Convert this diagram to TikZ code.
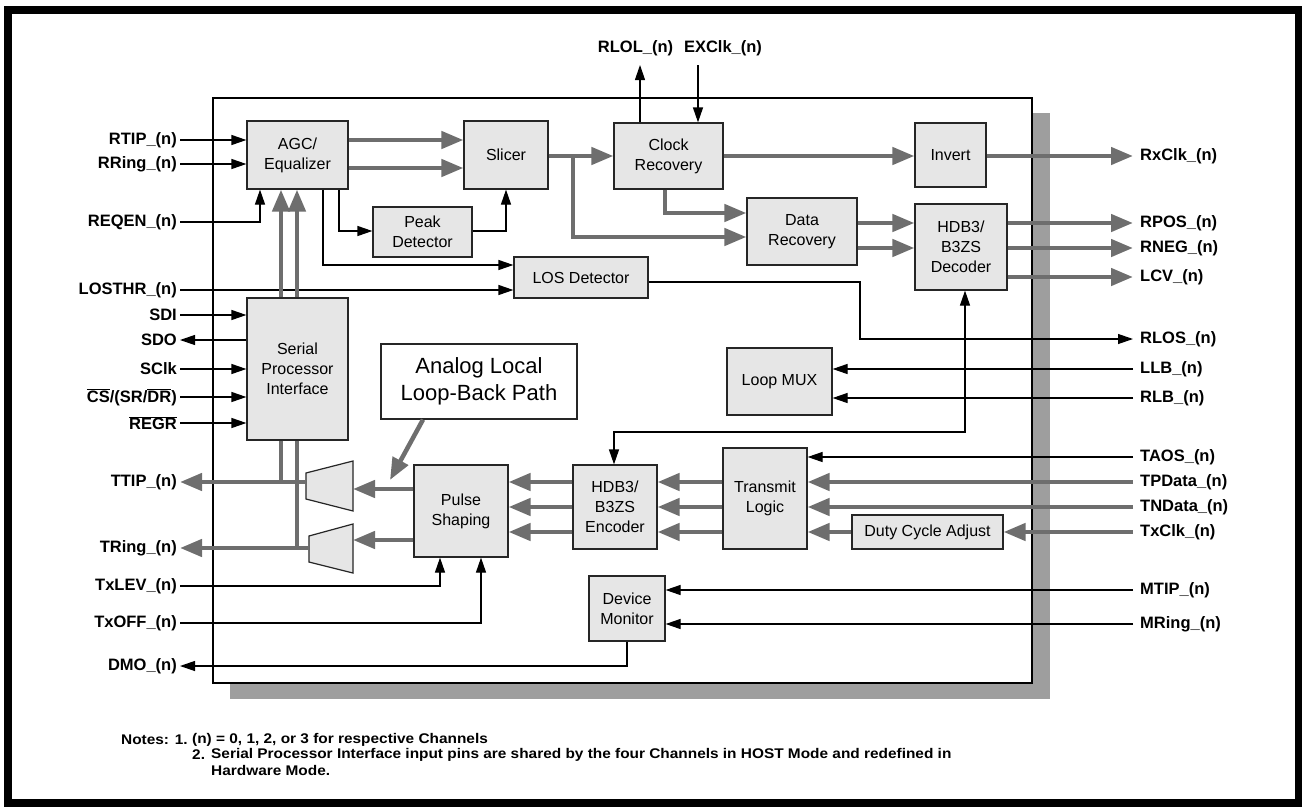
\documentclass[tikz,border=0pt]{standalone}
\usepackage{fontspec}
\setmainfont{Liberation Sans}
\newfontfamily\notefont[FakeStretch=1.1]{Liberation Sans}
\usetikzlibrary{arrows.meta,calc}
\definecolor{boxgray}{RGB}{230,230,230}
\definecolor{arrgray}{RGB}{110,110,110}
\definecolor{shadowgray}{RGB}{158,158,158}
\newcommand{\ovl}[1]{$\overline{\mbox{#1}}$}
\begin{document}
\begin{tikzpicture}[x=1pt,y=-1pt,
  blk/.style={draw=black!85, line width=1.2pt, fill=boxgray, font=\fontsize{16}{20}\selectfont, align=center, inner sep=0pt},
  callout/.style={draw=black!85, line width=1.2pt, fill=white, font=\fontsize{22}{27}\selectfont, align=center, inner sep=0pt},
  pinL/.style={anchor=east, inner xsep=3pt, inner ysep=0pt, font=\fontsize{16.5}{18}\selectfont\bfseries},
  pinR/.style={anchor=west, inner xsep=7pt, inner ysep=0pt, font=\fontsize{16.5}{18}\selectfont\bfseries},
  pinT/.style={inner sep=0pt, font=\fontsize{16.5}{18}\selectfont\bfseries},
  notes/.style={anchor=west, inner sep=0pt, font=\fontsize{14}{15}\selectfont\notefont\bfseries},
  tl/.style={line width=1.2pt, draw=black},
  tarr/.style={tl, -{Triangle[length=15pt,width=10pt]}},
  tarr2/.style={tl, {Triangle[length=15pt,width=10pt]}-{Triangle[length=15pt,width=10pt]}},
  gl/.style={draw=arrgray, line width=4.5pt},
  garr/.style={gl, -{Triangle[length=22pt,width=17pt]}},
  trap/.style={draw=black!85, line width=1.2pt, fill=boxgray, line join=miter}
]
\useasboundingbox (0,0) rectangle (1302,809);
% outer frame
\draw[line width=8pt] (7.5,9.5) rectangle (1299,803);
% shadow and main box
\fill[shadowgray] (230,113) rectangle (1050,699);
\draw[line width=1.2pt, fill=white] (213,98) rectangle (1032,683);

% blocks
\node[blk, minimum width=101, minimum height=68] (agc) at (297.5,155) {AGC/\\Equalizer};
\node[blk, minimum width=84, minimum height=68] (slicer) at (506,155) {Slicer};
\node[blk, minimum width=99, minimum height=50] (peak) at (422.5,232) {Peak\\Detector};
\node[blk, minimum width=109, minimum height=66] (clock) at (668.5,156) {Clock\\Recovery};
\node[blk, minimum width=71, minimum height=64] (invert) at (950.5,155) {Invert};
\node[blk, minimum width=110, minimum height=67] (datarec) at (802,231.5) {Data\\Recovery};
\node[blk, minimum width=92, minimum height=86] (dec) at (961,247) {HDB3/\\B3ZS\\Decoder};
\node[blk, minimum width=134, minimum height=41] (los) at (581,277.5) {LOS Detector};
\node[blk, minimum width=101, minimum height=142] (spi) at (297.5,369) {Serial\\Processor\\Interface};
\node[callout, minimum width=196, minimum height=75] (analog) at (479,381.5) {Analog Local\\Loop-Back Path};
\node[blk, minimum width=105, minimum height=67] (mux) at (779.5,381.5) {Loop MUX};
\node[blk, minimum width=94, minimum height=92] (pulse) at (461,511) {Pulse\\Shaping};
\node[blk, minimum width=84, minimum height=84] (enc) at (615,507) {HDB3/\\B3ZS\\Encoder};
\node[blk, minimum width=84, minimum height=101] (tx) at (765,498.5) {Transmit\\Logic};
\node[blk, minimum width=151, minimum height=34] (duty) at (927.5,532) {Duty Cycle Adjust};
\node[blk, minimum width=76, minimum height=65] (devmon) at (627,608.5) {Device\\Monitor};

% trapezoids (line drivers)
\filldraw[trap] (306,473) -- (353,461) -- (353,511) -- (306,499) -- cycle;
\filldraw[trap] (309,536) -- (353,524) -- (353,573) -- (309,562) -- cycle;
\coordinate (t1l) at (306,482);
\coordinate (t1r) at (353,489);
\coordinate (t2l) at (309,548);
\coordinate (t2r) at (353,540);

% left pins
\node[pinL] (rtip) at (180,140) {RTIP\_(n)};
\node[pinL] (rring) at (180,164) {RRing\_(n)};
\node[pinL] (reqen) at (180,222) {REQEN\_(n)};
\node[pinL] (losthr) at (180,290) {LOSTHR\_(n)};
\node[pinL] (sdi) at (180,315) {SDI};
\node[pinL] (sdo) at (180,340) {SDO};
\node[pinL] (sclk) at (180,369) {SClk};
\node[pinL] (cs) at (180,397) {\ovl{CS}/(SR/\ovl{DR})};
\node[pinL] (regr) at (180,423) {\ovl{REGR}};
\node[pinL] (ttip) at (180,482) {TTIP\_(n)};
\node[pinL] (tring) at (180,548) {TRing\_(n)};
\node[pinL] (txlev) at (180,586) {TxLEV\_(n)};
\node[pinL] (txoff) at (180,623) {TxOFF\_(n)};
\node[pinL] (dmo) at (180,666) {DMO\_(n)};

% right pins
\node[pinR] (rxclk) at (1133,156) {RxClk\_(n)};
\node[pinR] (rpos) at (1133,223) {RPOS\_(n)};
\node[pinR] (rneg) at (1133,248) {RNEG\_(n)};
\node[pinR] (lcv) at (1133,277) {LCV\_(n)};
\node[pinR] (rlos) at (1133,339) {RLOS\_(n)};
\node[pinR] (llb) at (1133,369) {LLB\_(n)};
\node[pinR] (rlb) at (1133,398) {RLB\_(n)};
\node[pinR] (taos) at (1133,457) {TAOS\_(n)};
\node[pinR] (tpdata) at (1133,482) {TPData\_(n)};
\node[pinR] (tndata) at (1133,507) {TNData\_(n)};
\node[pinR] (txclk) at (1133,532) {TxClk\_(n)};
\node[pinR] (mtip) at (1133,590) {MTIP\_(n)};
\node[pinR] (mring) at (1133,624) {MRing\_(n)};

% top pins
\node[pinT] (rlol) at (635.5,48) {RLOL\_(n)};
\node[pinT] (exclk) at (723,48) {EXClk\_(n)};
\coordinate (rlolend) at (640,65);
\coordinate (exclkst) at (698,65);

% receive path
\draw[tarr] (rtip.east) -- (agc.west |- rtip.east);
\draw[tarr] (rring.east) -- (agc.west |- rring.east);
\draw[tarr] (reqen.east) -| (agc.south -| 260,0);
\draw[garr] (agc.east |- 0,140) -- (slicer.west |- 0,140);
\draw[garr] (agc.east |- 0,168) -- (slicer.west |- 0,168);
\draw[tarr] (agc.south -| 339,0) |- (peak.west |- 0,231);
\draw[tarr] (agc.south -| 323,0) |- (los.west |- 0,265);
\draw[tarr] (peak.east |- 0,231) -| (slicer.south);
\draw[garr] (slicer.east |- 0,156) -- (clock.west |- 0,156);
\coordinate (br) at (573,156);
\draw[garr] (br) |- (datarec.west |- 0,237);
\draw[garr] (clock.south -| 665,0) |- (datarec.west |- 0,213);
\draw[garr] (clock.east |- 0,156) -- (invert.west |- 0,156);
\draw[garr] (invert.east |- rxclk.west) -- (rxclk.west);
\draw[garr] (datarec.east |- 0,223) -- (dec.west |- 0,223);
\draw[garr] (datarec.east |- 0,248) -- (dec.west |- 0,248);
\draw[garr] (dec.east |- rpos.west) -- (rpos.west);
\draw[garr] (dec.east |- rneg.west) -- (rneg.west);
\draw[garr] (dec.east |- lcv.west) -- (lcv.west);
\draw[tarr] (clock.north -| rlolend) -- (rlolend);
\draw[tarr] (exclkst) -- (clock.north -| exclkst);
\draw[tarr] (losthr.east) -- (los.west |- losthr.east);
\draw[tarr] (los.east |- 0,282) -- (860,282) |- (rlos.west);
\draw[tarr] (llb.west) -- (mux.east |- llb.west);
\draw[tarr] (rlb.west) -- (mux.east |- rlb.west);
\draw[tarr2] (enc.north -| 614,0) |- (965,432) -- (dec.south -| 965,0);

% serial interface
\draw[tarr] (sdi.east) -- (spi.west |- sdi.east);
\draw[tarr] (spi.west |- sdo.east) -- (sdo.east);
\draw[tarr] (sclk.east) -- (spi.west |- sclk.east);
\draw[tarr] (cs.east) -- (spi.west |- cs.east);
\draw[tarr] (regr.east) -- (spi.west |- regr.east);
\draw[garr] (spi.north -| 281,0) -- (agc.south -| 281,0);
\draw[garr] (spi.north -| 297,0) -- (agc.south -| 297,0);
\draw[gl] (spi.south -| 281,0) -- (281,482);
\draw[gl] (spi.south -| 297,0) -- (297,548);

% transmit path
\draw[garr] (t1l) -- (ttip.east);
\draw[garr] (t2l) -- (tring.east);
\draw[garr] (pulse.west |- t1r) -- (t1r);
\draw[garr] (pulse.west |- t2r) -- (t2r);
\draw[garr] (analog.south -| 423,0) -- (390,480);
\foreach \yy in {482,507,532} {
  \draw[garr] (enc.west |- 0,\yy) -- (pulse.east |- 0,\yy);
  \draw[garr] (tx.west |- 0,\yy) -- (enc.east |- 0,\yy);
}
\draw[tarr] (taos.west) -- (tx.east |- taos.west);
\draw[garr] (tpdata.west) -- (tx.east |- tpdata.west);
\draw[garr] (tndata.west) -- (tx.east |- tndata.west);
\draw[garr] (txclk.west) -- (duty.east);
\draw[garr] (duty.west) -- (tx.east |- duty.west);
\draw[tarr] (txlev.east) -| (pulse.south -| 440,0);
\draw[tarr] (txoff.east) -| (pulse.south -| 481,0);

% monitor
\draw[tarr] (mtip.west) -- (devmon.east |- mtip.west);
\draw[tarr] (mring.west) -- (devmon.east |- mring.west);
\draw[tarr] (devmon.south) |- (dmo.east);

% notes
\node[notes] (n1a) at (121,740) {Notes: 1.};
\node[notes] (n1b) at (192,740) {(n) = 0, 1, 2, or 3 for respective Channels};
\node[notes] (n2a) at (192,755) {2.};
\node[notes] (n2b) at (211,755) {Serial Processor Interface input pins are shared by the four Channels in HOST Mode and redefined in};
\node[notes] (n3) at (211,770) {Hardware Mode.};
\end{tikzpicture}
\end{document}
